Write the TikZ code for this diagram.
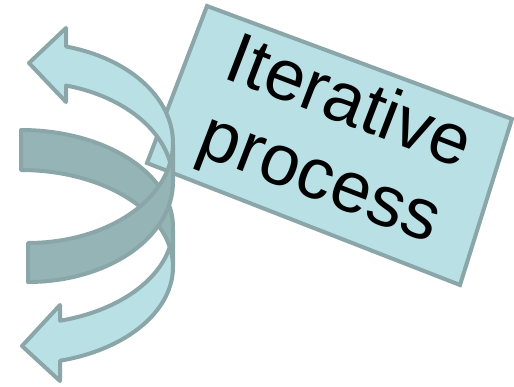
\documentclass[tikz,border=0pt]{standalone}
\usepackage{fontspec}
\setmainfont{Liberation Sans}
\definecolor{lightfill}{RGB}{185,224,228}
\definecolor{darkfill}{RGB}{149,180,182}
\definecolor{edgecol}{RGB}{138,166,168}
\begin{document}
\begin{tikzpicture}[x=1pt,y=-1pt,
  outl/.style={draw=edgecol, line width=4pt, line join=round},
  boxstyle/.style={fill=lightfill, draw=edgecol, line width=4pt, line join=miter},
  lbl/.style={rotate=-21, align=center, font=\fontsize{72}{81}\selectfont, inner sep=0pt, text=black}]
\useasboundingbox (0,0) rectangle (514,386);
% label box
\coordinate (b1) at (207,6);
\coordinate (b2) at (512,119);
\coordinate (b3) at (460,285);
\coordinate (b4) at (147,163);
\draw[boxstyle] (b1) -- (b2) -- (b3) -- (b4) -- cycle;
\node[lbl] (label) at (333.5,143.5) {Iterative\\process};
% ---- lower curved arrow (B) ----
\fill[darkfill] plot[domain=-90:0, samples=40] ({21+152*cos(\x)},{227+97*sin(\x)})
  -- plot[domain=0:-90, samples=40] ({21+152*cos(\x)},{267+97*sin(\x)}) -- cycle;
\fill[lightfill] plot[domain=11.9:75.1, samples=40] ({21+152*cos(\x)},{227+97*sin(\x)})
  -- (60,305) -- (22,346) -- (60,381)
  -- plot[domain=75.1:-11.9, samples=50] ({21+152*cos(\x)},{267+97*sin(\x)}) -- cycle;
\draw[outl] plot[domain=-90:0, samples=40] ({21+152*cos(\x)},{227+97*sin(\x)})
  -- plot[domain=0:-90, samples=40] ({21+152*cos(\x)},{267+97*sin(\x)}) -- cycle;
\draw[outl] plot[domain=0:75.1, samples=40] ({21+152*cos(\x)},{267+97*sin(\x)})
  -- (60,381) -- (22,346) -- (60,305)
  -- plot[domain=75.1:11.9, samples=40] ({21+152*cos(\x)},{227+97*sin(\x)});
% ---- upper curved arrow (T) ----
\fill[darkfill] plot[domain=90:0, samples=40] ({28+145*cos(\x)},{143+100*sin(\x)})
  -- plot[domain=0:90, samples=40] ({28+145*cos(\x)},{182+100*sin(\x)}) -- cycle;
\fill[lightfill] plot[domain=-11.2:-74.8, samples=40] ({28+145*cos(\x)},{182+100*sin(\x)})
  -- (66,102) -- (29,63) -- (66,28)
  -- plot[domain=-74.8:11.2, samples=50] ({28+145*cos(\x)},{143+100*sin(\x)}) -- cycle;
\draw[outl] plot[domain=90:0, samples=40] ({28+145*cos(\x)},{143+100*sin(\x)})
  -- plot[domain=0:90, samples=40] ({28+145*cos(\x)},{182+100*sin(\x)}) -- cycle;
\draw[outl] plot[domain=0:-74.8, samples=40] ({28+145*cos(\x)},{143+100*sin(\x)})
  -- (66,28) -- (29,63) -- (66,102)
  -- plot[domain=-74.8:-11.2, samples=40] ({28+145*cos(\x)},{182+100*sin(\x)});
\end{tikzpicture}
\end{document}
